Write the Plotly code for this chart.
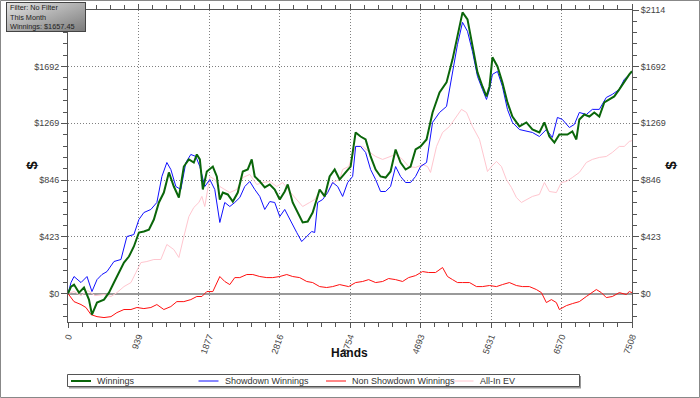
import base64
import plotly.graph_objects as go

# ---------------- data ----------------
win_hands = [0, 40, 80, 146, 213, 279, 319, 386, 479, 545, 612, 678, 745, 811, 877, 944, 1010, 1077,
             1143, 1210, 1276, 1343, 1409, 1476, 1542, 1609, 1675, 1715, 1755, 1795, 1848, 1928, 1981,
             2021, 2061, 2127, 2194, 2260, 2327, 2393, 2446, 2486, 2553, 2619, 2686, 2752, 2819, 2885,
             2925, 2991, 3058, 3124, 3191, 3257, 3310, 3350, 3417, 3483, 3550, 3616, 3696, 3762, 3829,
             3895, 3962, 4028, 4095, 4161, 4228, 4294, 4361, 4427, 4494, 4560, 4627, 4693, 4773, 4853,
             4946, 5039, 5119, 5185, 5252, 5318, 5384, 5451, 5517, 5571, 5611, 5650, 5717, 5783, 5850,
             5916, 6009, 6102, 6182, 6275, 6342, 6408, 6475, 6541, 6648, 6714, 6767, 6807, 6874, 6940,
             7006, 7073, 7139, 7206, 7272, 7339, 7405, 7472, 7508]
win_vals = [0, 52, 67, 7, 45, -45, -157, -67, -45, 7, 82, 157, 231, 276, 351, 455, 463, 477,
            552, 679, 753, 903, 798, 716, 947, 1000, 977, 1037, 1000, 776, 910, 947, 873,
            701, 753, 739, 686, 753, 910, 925, 1000, 873, 836, 791, 813, 776, 701, 761,
            813, 679, 604, 530, 537, 604, 701, 776, 724, 873, 925, 850, 903, 947, 1201,
            1171, 1149, 1022, 925, 873, 865, 910, 1074, 977, 925, 947, 1074, 1097, 1149, 1350,
            1499, 1574, 1746, 1932, 2096, 2044, 1858, 1649, 1544, 1470, 1544, 1761, 1693, 1574, 1425,
            1320, 1246, 1276, 1223, 1201, 1276, 1171, 1126, 1186, 1186, 1209, 1149, 1298, 1335, 1320,
            1350, 1320, 1425, 1447, 1470, 1522, 1582, 1634, 1657.45]

sd_hands = [0, 40, 80, 173, 253, 319, 386, 452, 519, 612, 705, 784, 877, 944, 1010, 1103, 1183,
            1250, 1316, 1369, 1436, 1502, 1569, 1635, 1702, 1755, 1821, 1888, 1954, 2021, 2087, 2154,
            2220, 2287, 2353, 2420, 2486, 2553, 2619, 2686, 2752, 2819, 2885, 2951, 3045, 3111, 3178,
            3244, 3284, 3324, 3390, 3457, 3523, 3590, 3656, 3723, 3789, 3829, 3895, 3962, 4028, 4095,
            4161, 4228, 4294, 4361, 4427, 4494, 4560, 4627, 4693, 4773, 4853, 4946, 5039, 5119, 5185,
            5252, 5318, 5384, 5451, 5517, 5571, 5611, 5650, 5717, 5783, 5850, 5916, 6009, 6102, 6182,
            6275, 6368, 6448, 6515, 6581, 6674, 6741, 6807, 6900, 6980, 7073, 7166, 7246, 7339, 7405,
            7472, 7508]
sd_vals = [0, 82, 127, 82, 127, 15, 104, 142, 164, 239, 254, 425, 440, 552, 604, 627, 679,
           873, 977, 925, 798, 776, 977, 1037, 1022, 947, 798, 850, 776, 530, 679, 649,
           679, 716, 798, 836, 776, 724, 627, 686, 679, 574, 627, 552, 455, 388, 425,
           463, 455, 679, 701, 753, 828, 798, 724, 828, 873, 1097, 1097, 1052, 925, 850,
           761, 761, 798, 947, 873, 828, 828, 873, 947, 977, 1276, 1350, 1395, 1649, 1858,
           2022, 1955, 1805, 1619, 1522, 1447, 1522, 1634, 1656, 1544, 1373, 1276, 1223, 1209, 1201,
           1171, 1223, 1164, 1313, 1298, 1238, 1261, 1350, 1335, 1373, 1373, 1462, 1485, 1522, 1597,
           1634, 1650]

nsd_hands = [0, 80, 173, 239, 306, 386, 479, 572, 651, 745, 838, 917, 1010, 1103, 1183, 1276,
             1369, 1449, 1542, 1635, 1715, 1782, 1848, 1928, 2021, 2087, 2154, 2220, 2287, 2380,
             2460, 2553, 2646, 2725, 2819, 2912, 2991, 3084, 3178, 3257, 3350, 3443, 3523, 3616,
             3736, 3829, 3922, 4002, 4095, 4188, 4268, 4361, 4454, 4534, 4627, 4720, 4800, 4893,
             4986, 5052, 5119, 5185, 5252, 5345, 5438, 5517, 5611, 5704, 5783, 5876, 5969, 6049,
             6142, 6235, 6302, 6368, 6435, 6501, 6541, 6634, 6714, 6807, 6900, 6967, 7033, 7100,
             7166, 7246, 7339, 7432, 7472, 7508]
nsd_vals = [0, -60, -82, -104, -157, -172, -179, -172, -142, -119, -119, -104, -112, -104, -82, -119,
            -97, -60, -60, -45, -22, -22, 15, 15, 127, 90, 67, 119, 119, 142,
            142, 127, 119, 119, 127, 142, 127, 119, 90, 82, 52, 45, 52, 67,
            52, 82, 90, 104, 82, 90, 112, 104, 90, 119, 134, 164, 157, 157,
            194, 127, 104, 82, 82, 82, 52, 52, 60, 52, 67, 82, 60, 52,
            52, 30, 7, -67, -45, -67, -119, -90, -75, -60, -22, 7, 30, 7,
            -30, -22, 7, -7, 15, 7]

ev_hands = [0, 80, 173, 266, 359, 479, 572, 651, 745, 838, 904, 971, 1050, 1143, 1236, 1316, 1409,
            1476, 1542, 1609, 1675, 1742, 1782, 1821, 1888, 1954, 2021, 2087, 2154, 2247, 2327, 2420,
            2513, 2593, 2686, 2779, 2858, 2951, 3045, 3124, 3217, 3284, 3350, 3443, 3523, 3616, 3656,
            3736, 3829, 3922, 4002, 4095, 4188, 4268, 4361, 4454, 4534, 4627, 4720, 4786, 4826, 4906,
            4986, 5079, 5172, 5238, 5305, 5384, 5478, 5544, 5584, 5637, 5704, 5770, 5836, 5903, 5969,
            6036, 6102, 6182, 6275, 6342, 6408, 6501, 6568, 6634, 6714, 6807, 6900, 6980, 7073, 7166,
            7246, 7339, 7405, 7472, 7508]
ev_vals = [0, 15, -15, 22, -15, -7, -22, 7, 52, 82, 157, 231, 239, 254, 254, 366, 328,
           269, 425, 574, 642, 679, 724, 649, 873, 850, 798, 776, 753, 776, 865, 888,
           813, 828, 836, 798, 828, 761, 701, 649, 679, 701, 761, 739, 828, 850, 925,
           947, 1097, 1097, 1059, 1022, 1000, 1015, 1037, 1000, 947, 940, 962, 947, 903, 1097,
           1201, 1246, 1320, 1373, 1350, 1246, 1149, 1000, 910, 947, 985, 947, 850, 791, 716,
           679, 701, 724, 739, 828, 761, 753, 828, 836, 865, 903, 977, 1000, 1015, 1022,
           1052, 1097, 1097, 1134, 1140]

x_ticks = [0, 939, 1877, 2816, 3754, 4693, 5631, 6570, 7508]
x_labels = ["0", "939", "1877", "2816", "3754", "4693", "5631", "6570", "7508"]
y_ticks = [0, 423, 846, 1269, 1692, 2114]
y_labels = ["$0", "$423", "$846", "$1269", "$1692", "$2114"]

info_lines = ["Filter: No Filter", "This Month", "Winnings: $1657.45"]

# ---------------- figure ----------------
FONT = "Liberation Sans, Arial, sans-serif"
PLOT_L, PLOT_R, PLOT_T, PLOT_B = 68, 632, 10, 322
PW, PH = PLOT_R - PLOT_L, PLOT_B - PLOT_T


def px_x(px):
    return (px - PLOT_L) / PW


def px_y(py):
    return (PLOT_B - py) / PH


# legend order: name, colour, width, data, axis
series = [
    ("Winnings", "#0a660a", 2, win_hands, win_vals, "y2"),
    ("Showdown Winnings", "#1010ff", 1, sd_hands, sd_vals, "y"),
    ("Non Showdown Winnings", "#ff1010", 1, nsd_hands, nsd_vals, "y"),
    ("All-In EV", "#ffc6cf", 1, ev_hands, ev_vals, "y"),
]

fig = go.Figure()
for name, col, w, xs, ys, ax in reversed(series):
    fig.add_trace(go.Scatter(x=xs, y=ys, name=name, mode="lines", yaxis=ax,
                             line=dict(color=col, width=w), showlegend=False))

axcol = "#555555"
yrange = [-212, 2114]
minor_y = dict(tickmode="linear", tick0=0, dtick=84.6, ticks="outside",
               ticklen=4, tickcolor=axcol, showgrid=False)
fig.update_layout(
    width=700, height=398,
    margin=dict(l=PLOT_L, r=700 - PLOT_R, t=PLOT_T, b=398 - PLOT_B, autoexpand=False),
    paper_bgcolor="white", plot_bgcolor="white",
    font=dict(family=FONT, size=10, color="#444"),
    showlegend=False,
    xaxis=dict(range=[0, 7508], tickmode="array", tickvals=x_ticks, ticktext=x_labels,
               tickangle=-70, ticks="outside", ticklen=5, tickcolor=axcol,
               showline=True, linecolor=axcol, linewidth=1, mirror="ticks",
               showgrid=True, gridcolor="#808080", griddash="1px,2px", gridwidth=1,
               zeroline=False, tickfont=dict(size=9, color="#444"), automargin=False,
               minor=dict(tickmode="linear", tick0=0, dtick=187.7, ticks="outside",
                          ticklen=4, tickcolor=axcol, showgrid=False)),
    yaxis=dict(range=yrange, tickmode="array", tickvals=y_ticks, ticktext=y_labels,
               ticks="outside", ticklen=6, tickcolor=axcol,
               showline=True, linecolor=axcol, linewidth=1,
               showgrid=True, gridcolor="#808080", griddash="1px,2px", gridwidth=1,
               zeroline=True, zerolinecolor="#9a9a9a", zerolinewidth=2, automargin=False,
               tickfont=dict(size=9, color="#444"), minor=minor_y),
    yaxis2=dict(range=yrange, overlaying="y", side="right", anchor="x",
                tickmode="array", tickvals=y_ticks, ticktext=y_labels,
                ticks="outside", ticklen=6, tickcolor=axcol,
                showline=True, linecolor=axcol, linewidth=1, automargin=False,
                showgrid=False, zeroline=False,
                tickfont=dict(size=9, color="#444"), minor=minor_y),
)

# axis titles
fig.add_annotation(text="<b>Hands</b>", x=px_x(349), y=px_y(362), xref="paper", yref="paper",
                   showarrow=False, font=dict(size=12, color="#111", family=FONT))
for xpix in (20, 680):
    fig.add_annotation(text="<b>$</b>", x=px_x(xpix), y=px_y(165), xref="paper", yref="paper",
                       showarrow=False, textangle=-90, font=dict(size=15, color="#111", family=FONT))

# legend (drawn as a framed strip below the chart)
fig.add_shape(type="rect", xref="paper", yref="paper",
              x0=px_x(69), x1=px_x(581), y0=px_y(388.5), y1=px_y(376),
              line=dict(width=0), fillcolor="#9a9a9a", layer="above")
fig.add_shape(type="rect", xref="paper", yref="paper",
              x0=px_x(67.5), x1=px_x(579.5), y0=px_y(386.5), y1=px_y(374.5),
              line=dict(color="#555", width=1), fillcolor="white", layer="above")
for i, (name, col, w, xs, ys, ax) in enumerate(series):
    x0 = 71 + 127.5 * i
    fig.add_shape(type="line", xref="paper", yref="paper",
                  x0=px_x(x0), x1=px_x(x0 + 20), y0=px_y(381), y1=px_y(381),
                  line=dict(color=col, width=w), layer="above")
    fig.add_annotation(text=name, x=px_x(x0 + 25), y=px_y(381), xref="paper", yref="paper",
                       xanchor="left", yanchor="middle", showarrow=False, borderpad=0,
                       font=dict(size=9, color="#333", family=FONT))

# info box with gradient
svg = ("<svg xmlns='http://www.w3.org/2000/svg' width='80' height='30'>"
       "<defs><linearGradient id='g' x1='0' y1='0' x2='1' y2='1'>"
       "<stop offset='0' stop-color='#e4e4e4'/><stop offset='1' stop-color='#7a7a7a'/>"
       "</linearGradient></defs>"
       "<rect x='0.5' y='0.5' width='79' height='29' fill='url(#g)' stroke='#444' stroke-width='1'/></svg>")
src = "data:image/svg+xml;base64," + base64.b64encode(svg.encode()).decode()
fig.add_layout_image(source=src, xref="paper", yref="paper",
                     x=px_x(6), y=px_y(2), sizex=80 / PW, sizey=30 / PH,
                     xanchor="left", yanchor="top", sizing="stretch", layer="above")
for i, line in enumerate(info_lines):
    fig.add_annotation(text=line, x=px_x(8.5), y=px_y(7.3 + 9.7 * i),
                       xref="paper", yref="paper", xanchor="left", yanchor="middle",
                       showarrow=False, borderpad=0, font=dict(size=7.3, color="#222", family=FONT))

# outer frame
fig.add_shape(type="rect", xref="paper", yref="paper",
              x0=px_x(0.5), x1=px_x(699.5), y0=px_y(397.5), y1=px_y(0.5),
              line=dict(color="#888", width=1), layer="below")

fig.write_html("out.html", config={"displayModeBar": False},
               post_script="document.body.style.margin='0';")
